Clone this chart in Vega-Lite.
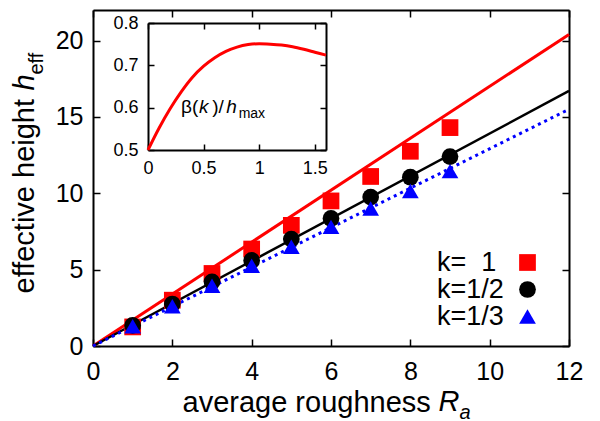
{
  "$schema": "https://vega.github.io/schema/vega-lite/v6.json",
  "width": 476,
  "height": 336,
  "autosize": {"type": "none"},
  "padding": {"left": 93, "top": 10, "right": 31, "bottom": 75},
  "background": "white",
  "config": {
    "font": "Liberation Sans",
    "view": {"stroke": null},
    "axis": {"grid": false, "domainColor": "black", "tickColor": "black", "labelColor": "black", "titleColor": "black", "domainWidth": 2, "tickWidth": 1.5, "titleFontWeight": "normal", "labelFlush": false, "labelOverlap": false},
    "legend": {"labelColor": "black"}
  },
  "datasets": {
    "pts": [
      {"Ra": 1, "h": 1.25, "k": "k=\u00a0\u00a01"},
      {"Ra": 2, "h": 3.0, "k": "k=\u00a0\u00a01"},
      {"Ra": 3, "h": 4.75, "k": "k=\u00a0\u00a01"},
      {"Ra": 4, "h": 6.35, "k": "k=\u00a0\u00a01"},
      {"Ra": 5, "h": 7.9, "k": "k=\u00a0\u00a01"},
      {"Ra": 6, "h": 9.5, "k": "k=\u00a0\u00a01"},
      {"Ra": 7, "h": 11.1, "k": "k=\u00a0\u00a01"},
      {"Ra": 8, "h": 12.75, "k": "k=\u00a0\u00a01"},
      {"Ra": 9, "h": 14.3, "k": "k=\u00a0\u00a01"},
      {"Ra": 1, "h": 1.35, "k": "k=1/2"},
      {"Ra": 2, "h": 2.75, "k": "k=1/2"},
      {"Ra": 3, "h": 4.2, "k": "k=1/2"},
      {"Ra": 4, "h": 5.6, "k": "k=1/2"},
      {"Ra": 5, "h": 7.0, "k": "k=1/2"},
      {"Ra": 6, "h": 8.35, "k": "k=1/2"},
      {"Ra": 7, "h": 9.75, "k": "k=1/2"},
      {"Ra": 8, "h": 11.05, "k": "k=1/2"},
      {"Ra": 9, "h": 12.4, "k": "k=1/2"},
      {"Ra": 1, "h": 1.3, "k": "k=1/3"},
      {"Ra": 2, "h": 2.6, "k": "k=1/3"},
      {"Ra": 3, "h": 3.95, "k": "k=1/3"},
      {"Ra": 4, "h": 5.25, "k": "k=1/3"},
      {"Ra": 5, "h": 6.5, "k": "k=1/3"},
      {"Ra": 6, "h": 7.8, "k": "k=1/3"},
      {"Ra": 7, "h": 9.0, "k": "k=1/3"},
      {"Ra": 8, "h": 10.15, "k": "k=1/3"},
      {"Ra": 9, "h": 11.45, "k": "k=1/3"}
    ],
    "lines": [
      {"Ra": 0, "h": 0, "k": "k=\u00a0\u00a01"},
      {"Ra": 12, "h": 20.4, "k": "k=\u00a0\u00a01"},
      {"Ra": 0, "h": 0, "k": "k=1/2"},
      {"Ra": 12, "h": 16.7, "k": "k=1/2"},
      {"Ra": 0, "h": 0, "k": "k=1/3"},
      {"Ra": 12, "h": 15.5, "k": "k=1/3"}
    ],
    "inset": [
      {"kv": 0, "beta": 0.5},
      {"kv": 0.1, "beta": 0.552},
      {"kv": 0.2, "beta": 0.598},
      {"kv": 0.3, "beta": 0.638},
      {"kv": 0.4, "beta": 0.672},
      {"kv": 0.5, "beta": 0.698},
      {"kv": 0.6, "beta": 0.718},
      {"kv": 0.7, "beta": 0.733},
      {"kv": 0.8, "beta": 0.743},
      {"kv": 0.9, "beta": 0.749},
      {"kv": 1.0, "beta": 0.751},
      {"kv": 1.1, "beta": 0.75},
      {"kv": 1.2, "beta": 0.748},
      {"kv": 1.3, "beta": 0.744},
      {"kv": 1.4, "beta": 0.738},
      {"kv": 1.5, "beta": 0.731},
      {"kv": 1.6, "beta": 0.724}
    ]
  },
  "layer": [
    {
      "layer": [
        {
          "data": {"name": "lines"},
          "transform": [{"filter": {"field": "k", "equal": "k=\u00a0\u00a01"}}],
          "mark": {"type": "line", "color": "#ff0000", "strokeWidth": 3},
          "encoding": {
            "x": {"field": "Ra", "type": "quantitative", "scale": {"domain": [0, 12], "nice": false, "zero": false},
              "axis": {"orient": "top", "values": [0, 2, 4, 6, 8, 10, 12], "labels": false, "tickSize": -7, "title": "R", "titleFontSize": 29, "titleFontStyle": "italic", "titleX": 345, "titleY": 400, "titleAlign": "left", "titleBaseline": "alphabetic", "titleAngle": 0}},
            "y": {"field": "h", "type": "quantitative", "scale": {"domain": [0, 22], "nice": false, "zero": false},
              "axis": {"orient": "right", "values": [0, 5, 10, 15, 20], "labels": false, "tickSize": -7, "title": "h", "titleFontSize": 29, "titleFontStyle": "italic", "titleAngle": 270, "titleX": -536, "titleY": 80, "titleAlign": "left", "titleBaseline": "alphabetic"}}
          }
        },
        {
          "data": {"name": "lines"},
          "transform": [{"filter": {"field": "k", "equal": "k=1/2"}}],
          "mark": {"type": "line", "color": "#000000", "strokeWidth": 2.5},
          "encoding": {
            "x": {"field": "Ra", "type": "quantitative", "scale": {"domain": [0, 12], "nice": false, "zero": false},
              "axis": {"orient": "bottom", "domain": false, "ticks": false, "labels": false, "title": "a", "titleFontSize": 20, "titleFontStyle": "italic", "titleX": 366, "titleY": 72, "titleAlign": "left", "titleBaseline": "alphabetic", "titleAngle": 0}},
            "y": {"field": "h", "type": "quantitative", "scale": {"domain": [0, 22], "nice": false, "zero": false},
              "axis": {"orient": "left", "domain": false, "ticks": false, "labels": false, "title": "eff", "titleFontSize": 20, "titleAngle": 270, "titleX": -51, "titleY": 64, "titleAlign": "left", "titleBaseline": "alphabetic"}}
          }
        },
        {
          "data": {"name": "lines"},
          "transform": [{"filter": {"field": "k", "equal": "k=1/3"}}],
          "mark": {"type": "line", "color": "#0000ff", "strokeWidth": 3, "strokeDash": [3, 4]},
          "encoding": {
            "x": {"field": "Ra", "type": "quantitative", "scale": {"domain": [0, 12], "nice": false, "zero": false}, "axis": null},
            "y": {"field": "h", "type": "quantitative", "scale": {"domain": [0, 22], "nice": false, "zero": false}, "axis": null}
          }
        },
        {
          "data": {"name": "pts"},
          "mark": {"type": "point", "filled": true, "size": 280, "opacity": 1},
          "encoding": {
            "x": {"field": "Ra", "type": "quantitative", "scale": {"domain": [0, 12], "nice": false, "zero": false},
              "axis": {"orient": "bottom", "values": [0, 2, 4, 6, 8, 10, 12], "tickSize": -7, "labelPadding": 20, "labelFontSize": 25, "title": "average roughness", "titleFontSize": 29, "titleX": 89, "titleY": 65, "titleAlign": "left", "titleBaseline": "alphabetic", "titleAngle": 0}},
            "y": {"field": "h", "type": "quantitative", "scale": {"domain": [0, 22], "nice": false, "zero": false},
              "axis": {"orient": "left", "values": [0, 5, 10, 15, 20], "tickSize": -7, "labelPadding": 17, "labelFontSize": 25, "title": "effective height", "titleFontSize": 29, "titleAngle": 270, "titleX": -60, "titleY": 283, "titleAlign": "left", "titleBaseline": "alphabetic"}},
            "color": {"field": "k", "type": "nominal",
              "scale": {"domain": ["k=\u00a0\u00a01", "k=1/2", "k=1/3"], "range": ["#ff0000", "#000000", "#0000ff"]},
              "legend": {"orient": "none", "legendX": 421, "legendY": 239, "title": null, "labelFontSize": 27, "labelAlign": "left", "labelOffset": -104, "symbolSize": 280, "rowPadding": -1, "padding": 0, "symbolStrokeWidth": 0}},
            "shape": {"field": "k", "type": "nominal",
              "scale": {"domain": ["k=\u00a0\u00a01", "k=1/2", "k=1/3"], "range": ["square", "circle", "triangle-up"]},
              "legend": {"orient": "none", "legendX": 421, "legendY": 239, "title": null, "labelFontSize": 27, "labelAlign": "left", "labelOffset": -104, "symbolSize": 280, "rowPadding": -1, "padding": 0, "symbolStrokeWidth": 0}}
          }
        }
      ],
      "resolve": {"axis": {"x": "independent", "y": "independent"}}
    },
    {
      "layer": [
        {
          "data": {"name": "inset"},
          "mark": {"type": "line", "color": "#ff0000", "strokeWidth": 3, "interpolate": "monotone"},
          "encoding": {
            "x": {"field": "kv", "type": "quantitative", "scale": {"domain": [0, 1.6], "range": [55, 233], "nice": false, "zero": false},
              "axis": {"orient": "bottom", "offset": -196, "values": [0, 0.5, 1, 1.5], "format": "~g", "tickSize": -6, "labelPadding": 15, "labelFontSize": 18, "title": null}},
            "y": {"field": "beta", "type": "quantitative", "scale": {"domain": [0.5, 0.8], "range": [140, 13], "nice": false, "zero": false},
              "axis": {"orient": "left", "offset": -55, "values": [0.5, 0.6, 0.7, 0.8], "format": ".1f", "tickSize": -6, "labelPadding": 16, "labelFontSize": 18, "title": null}}
          }
        },
        {
          "data": {"values": [{}]},
          "mark": {"type": "text", "text": "β(", "fontSize": 19, "align": "left", "baseline": "alphabetic", "color": "black"},
          "encoding": {
            "x": {"datum": 0.297, "type": "quantitative", "scale": {"domain": [0, 1.6], "range": [55, 233], "nice": false, "zero": false},
              "axis": {"orient": "top", "offset": -13, "values": [0, 0.5, 1, 1.5], "labels": false, "tickSize": -6, "title": null}},
            "y": {"datum": 0.587, "type": "quantitative", "scale": {"domain": [0.5, 0.8], "range": [140, 13], "nice": false, "zero": false},
              "axis": {"orient": "right", "offset": -243, "values": [0.5, 0.6, 0.7, 0.8], "labels": false, "tickSize": -6, "title": null}}
          }
        },
        {
          "data": {"values": [{}]},
          "mark": {"type": "text", "text": "k", "fontSize": 19, "fontStyle": "italic", "align": "left", "baseline": "alphabetic", "color": "black"},
          "encoding": {
            "x": {"datum": 0.459, "type": "quantitative", "scale": {"domain": [0, 1.6], "range": [55, 233], "nice": false, "zero": false}, "axis": null},
            "y": {"datum": 0.587, "type": "quantitative", "scale": {"domain": [0.5, 0.8], "range": [140, 13], "nice": false, "zero": false}, "axis": null}
          }
        },
        {
          "data": {"values": [{}]},
          "mark": {"type": "text", "text": ")/", "fontSize": 19, "align": "left", "baseline": "alphabetic", "color": "black"},
          "encoding": {
            "x": {"datum": 0.577, "type": "quantitative", "scale": {"domain": [0, 1.6], "range": [55, 233], "nice": false, "zero": false}, "axis": null},
            "y": {"datum": 0.587, "type": "quantitative", "scale": {"domain": [0.5, 0.8], "range": [140, 13], "nice": false, "zero": false}, "axis": null}
          }
        },
        {
          "data": {"values": [{}]},
          "mark": {"type": "text", "text": "h", "fontSize": 19, "fontStyle": "italic", "align": "left", "baseline": "alphabetic", "color": "black"},
          "encoding": {
            "x": {"datum": 0.703, "type": "quantitative", "scale": {"domain": [0, 1.6], "range": [55, 233], "nice": false, "zero": false}, "axis": null},
            "y": {"datum": 0.587, "type": "quantitative", "scale": {"domain": [0.5, 0.8], "range": [140, 13], "nice": false, "zero": false}, "axis": null}
          }
        },
        {
          "data": {"values": [{}]},
          "mark": {"type": "text", "text": "max", "fontSize": 14, "align": "left", "baseline": "alphabetic", "color": "black"},
          "encoding": {
            "x": {"datum": 0.815, "type": "quantitative", "scale": {"domain": [0, 1.6], "range": [55, 233], "nice": false, "zero": false}, "axis": null},
            "y": {"datum": 0.575, "type": "quantitative", "scale": {"domain": [0.5, 0.8], "range": [140, 13], "nice": false, "zero": false}, "axis": null}
          }
        }
      ],
      "resolve": {"axis": {"x": "independent", "y": "independent"}}
    }
  ],
  "resolve": {"scale": {"x": "independent", "y": "independent"}}
}
